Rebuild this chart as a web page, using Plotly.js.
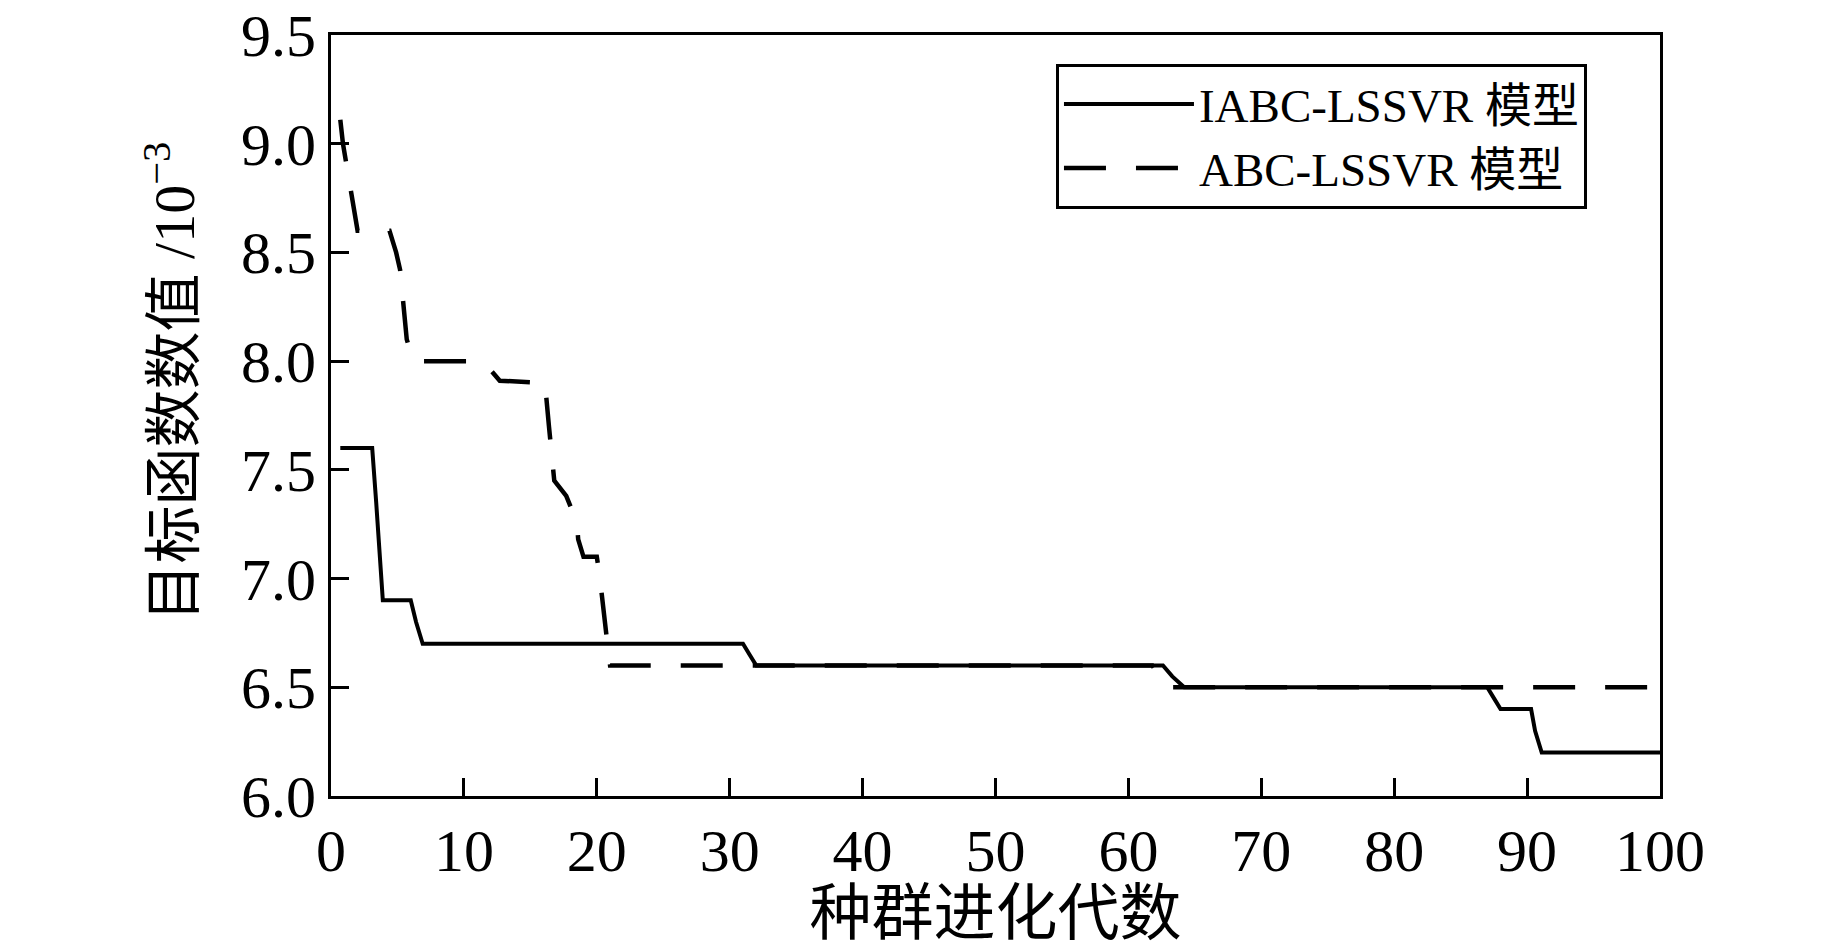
<!DOCTYPE html>
<html>
<head>
<meta charset="utf-8">
<script src="https://cdn.plot.ly/plotly-3.0.1.min.js"></script>
<style>
  html, body { margin: 0; padding: 0; background: #fff; }
  #plotArea { width: 1843px; height: 948px; }
</style>
</head>
<body>
<div id="plotArea"></div>
<script>
// IABC-LSSVR curve (solid)
var iabcGen = [0.7, 3.1, 3.4, 3.7, 3.9, 6.0, 6.4, 6.9, 31.0, 31.5, 32.0, 62.6, 63.3, 64.2, 87.0, 87.5, 88.0, 90.3, 90.6, 91.1, 100];
var iabcVal = [7.6, 7.6, 7.35, 7.1, 6.9, 6.9, 6.8, 6.7, 6.7, 6.65, 6.6, 6.6, 6.55, 6.5, 6.5, 6.45, 6.4, 6.4, 6.3, 6.2, 6.2];

// ABC-LSSVR curve (dashed)
var abcGen = [0.7, 0.9, 2.0, 4.4, 4.9, 5.2, 5.7, 6.2, 11.2, 12.0, 12.7, 16.1, 16.4, 16.8, 17.7, 18.5, 18.6, 19.0, 20.0, 20.2, 20.8, 21.0, 61.8, 62.9, 100];
var abcVal = [9.11, 9.0, 8.6, 8.6, 8.5, 8.42, 8.1, 8.0, 8.0, 7.96, 7.91, 7.9, 7.7, 7.45, 7.38, 7.26, 7.18, 7.1, 7.1, 7.02, 6.7, 6.6, 6.6, 6.5, 6.5];

var seriesNames = ["IABC-LSSVR 模型", "ABC-LSSVR 模型"];
var xTicks = [0, 10, 20, 30, 40, 50, 60, 70, 80, 90, 100];
var yTicks = [6.0, 6.5, 7.0, 7.5, 8.0, 8.5, 9.0, 9.5];

var fontFam = "Liberation Serif, Times New Roman, Noto Sans CJK SC, serif";

var trace1 = {
  x: iabcGen,
  y: iabcVal,
  name: seriesNames[0],
  type: "scatter",
  mode: "lines",
  line: {color: "#000", width: 4}
};
var trace2 = {
  x: abcGen,
  y: abcVal,
  name: seriesNames[1],
  type: "scatter",
  mode: "lines",
  line: {color: "#000", width: 4.5, dash: "42px,30px"}
};

var axisCommon = {
  showgrid: false,
  zeroline: false,
  showline: true,
  mirror: true,
  linecolor: "#000",
  linewidth: 3,
  ticks: "inside",
  ticklen: 18,
  tickwidth: 3,
  tickcolor: "#000",
  tickfont: {family: fontFam, size: 60, color: "#000"}
};

var layout = {
  width: 1843,
  height: 948,
  margin: {l: 331, r: 183, t: 35, b: 152},
  paper_bgcolor: "#fff",
  plot_bgcolor: "#fff",
  font: {family: fontFam, color: "#000"},
  xaxis: Object.assign({}, axisCommon, {
    range: [0, 100],
    tickvals: xTicks,
    ticktext: xTicks.map(String),
    title: {text: "种群进化代数", font: {family: fontFam, size: 62}, standoff: 12}
  }),
  yaxis: Object.assign({}, axisCommon, {
    range: [6.0, 9.5],
    tickvals: yTicks,
    ticktext: yTicks.map(function (v) { return v.toFixed(1); })
  }),
  // y title placed as annotation so it can sit a bit above centre like the original
  annotations: [{
    text: "目标函数数值 /10<sup>−3</sup>",
    xref: "paper", yref: "paper",
    x: -0.121, y: 0.545,
    xanchor: "center", yanchor: "middle",
    textangle: -90,
    showarrow: false,
    font: {family: fontFam, size: 58, color: "#000"}
  }],
  legend: {
    x: 0.5455,
    y: 0.962,
    xanchor: "left",
    yanchor: "top",
    bgcolor: "#fff",
    bordercolor: "#000",
    borderwidth: 3,
    itemwidth: 130,
    tracegroupgap: 0,
    font: {family: fontFam, size: 47, color: "#000"}
  },
  showlegend: true
};

Plotly.newPlot("plotArea", [trace1, trace2], layout, {staticPlot: true});
</script>
</body>
</html>
